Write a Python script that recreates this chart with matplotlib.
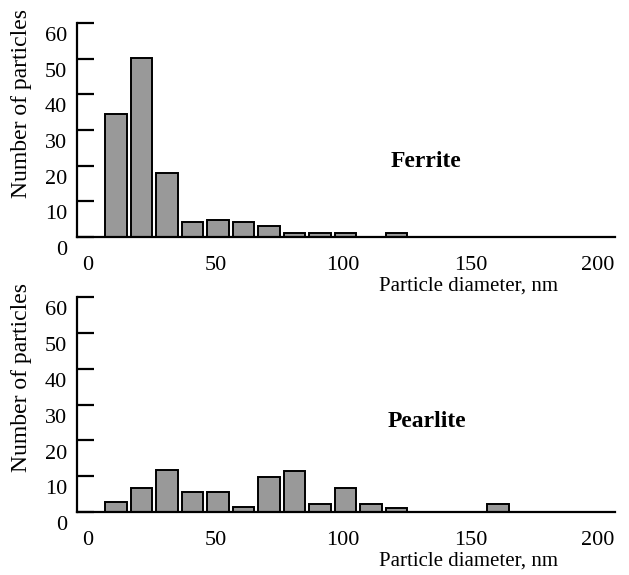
import matplotlib
matplotlib.use("Agg")
import matplotlib.pyplot as plt
import matplotlib.transforms as mtransforms

plt.rcParams['font.family'] = ['Liberation Serif', 'DejaVu Serif']

# Data (bin centres in nm, counts)
ferrite_centers = [11, 21, 31, 41, 51, 61, 71, 81, 91, 101, 121]
ferrite_counts = [34.4, 50.3, 18, 4.1, 4.7, 4.1, 3, 1, 1, 1, 1]

pearlite_centers = [11, 21, 31, 41, 51, 61, 71, 81, 91, 101, 111, 121, 161]
pearlite_counts = [3, 6.7, 11.8, 5.7, 5.7, 1.6, 9.9, 11.6, 2.3, 6.7, 2.3, 1.2, 2.3]

xticks = [0, 50, 100, 150, 200]
yticks = [0, 10, 20, 30, 40, 50, 60]

fig = plt.figure(figsize=(6.29, 5.75), dpi=100)
ax1 = fig.add_axes([0.1224, 0.5878, 0.8553, 0.3722])
ax2 = fig.add_axes([0.1224, 0.109, 0.8553, 0.375])

bar_color = '#999999'

def style(ax, label_y, name, name_xy):
    ax.set_xlim(-4.3, 206.7)
    ax.set_ylim(0, 60)
    ax.set_xticks(xticks)
    ax.set_yticks(yticks)
    for s in ['top', 'right']:
        ax.spines[s].set_visible(False)
    for s in ['left', 'bottom']:
        ax.spines[s].set_linewidth(1.6)
    ax.tick_params(axis='y', direction='in', length=12, width=1.6, labelsize=16, pad=7)
    ax.tick_params(axis='x', length=0, labelsize=16, pad=13.5)
    offset = mtransforms.ScaledTranslation(0, -8 / 72, fig.dpi_scale_trans)
    for lbl in ax.get_yticklabels():
        lbl.set_transform(lbl.get_transform() + offset)
    ax.set_xlabel('Particle diameter, nm', fontsize=15)
    ax.xaxis.set_label_coords(0.727, label_y)
    ax.text(name_xy[0], name_xy[1], name, transform=ax.transAxes, fontsize=17,
            fontweight='bold', ha='center', va='center')

ax1.bar(ferrite_centers, ferrite_counts, width=8.6, color=bar_color,
        edgecolor='black', linewidth=1.4)
ax2.bar(pearlite_centers, pearlite_counts, width=8.6, color=bar_color,
        edgecolor='black', linewidth=1.4)

style(ax1, -0.187, 'Ferrite', (0.648, 0.355))
style(ax2, -0.18, 'Pearlite', (0.650, 0.42))

fig.text(22 / 629, 1 - 104 / 575, 'Number of particles', rotation=90,
         ha='center', va='center', fontsize=17)
fig.text(22 / 629, 1 - 377 / 575, 'Number of particles', rotation=90,
         ha='center', va='center', fontsize=17)

fig.savefig('out.png', dpi=100)
